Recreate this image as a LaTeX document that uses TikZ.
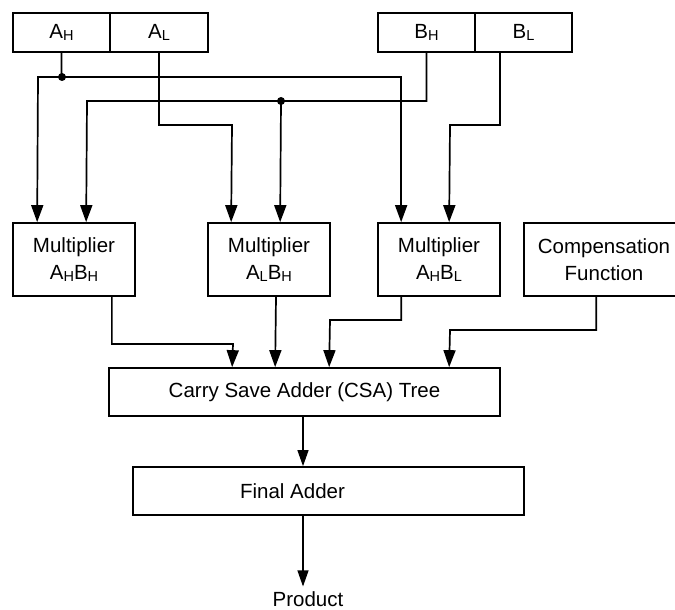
\documentclass[tikz,border=0pt]{standalone}
\usepackage{fontspec}
\setmainfont{Liberation Sans}
\usetikzlibrary{arrows.meta}

% small lowered index letter, as in A_H
\newcommand{\idx}[1]{\raisebox{-0.09em}{\fontsize{14.5}{14.5}\selectfont #1}}

\begin{document}
\begin{tikzpicture}[x=1pt,y=-1pt,
  every node/.style={font=\fontsize{20.5}{26.5}\selectfont},
  box/.style={draw, line width=1.7pt, inner sep=0pt, align=center},
  regbox/.style={box, minimum width=97pt, minimum height=39pt},
  mulbox/.style={box, minimum width=122pt, minimum height=73pt},
  wide/.style={box, minimum width=391pt, minimum height=48pt},
  wire/.style={line width=1.7pt},
  arr/.style={wire, -{Triangle[length=17pt,width=12pt]}},
  arrthin/.style={line width=1.1pt, -{Triangle[length=16pt,width=11pt]}},
  dot/.style={fill=black}
]
\useasboundingbox (0,0) rectangle (675,610);
\clip (0,0) rectangle (675,610);

% operand registers
\node[regbox] (ah) at (61.5,32.5) {A\idx{H}};
\node[regbox, minimum width=98pt] (al) at (159,32.5) {A\idx{L}};
\node[regbox] (bh) at (426.5,32.5) {B\idx{H}};
\node[regbox] (bl) at (523.5,32.5) {B\idx{L}};

% partial product multipliers
\node[mulbox] (m1) at (74,259.5) {Multiplier\\A\idx{H}B\idx{H}};
\node[mulbox] (m2) at (269,259.5) {Multiplier\\A\idx{L}B\idx{H}};
\node[mulbox] (m3) at (439,259.5) {Multiplier\\A\idx{H}B\idx{L}};
\node[box, minimum width=160pt, minimum height=73pt] (comp) at (604,259.5) {Compensation\\Function};

% reduction and final addition
\node[wide] (csa) at (304.5,392) {Carry Save Adder (CSA) Tree};
\node[wide] (fa) at (328.5,491) {};
\node (falabel) at (292.5,491) {Final Adder};
\node[inner sep=0pt, anchor=base] (prod) at (308,606.5) {Product};

% junction points
\coordinate (ja) at (62,77);
\coordinate (jb) at (281,101);

% A_H fan-out
\draw[arr] (ah.south) |- (38,77) -- ([xshift=25pt]m1.north west);
\draw[arr] (ja) -| ([xshift=24pt]m3.north west);
\fill[dot] (ja) circle (4);

% A_L
\draw[arr] (al.south) |- (232,125) -- ([xshift=24pt]m2.north west);

% B_H fan-out
\draw[arr] (bh.south) |- (87,101) -- ([xshift=74pt]m1.north west);
\draw[arr] (jb) -- ([xshift=73pt]m2.north west);
\fill[dot] (jb) circle (4);

% B_L
\draw[arr] ([xshift=-23.5pt]bl.south) |- (450,125) -- ([xshift=72pt]m3.north west);

% partial products into the CSA tree
\draw[arr] ([xshift=-24pt]m1.south east) |- (233,344) -- ([xshift=124pt]csa.north west);
\draw[arr] ([xshift=7pt]m2.south) -- ([xshift=167pt]csa.north west);
\draw[arr] ([xshift=24pt]m3.south west) |- (330,320) -- ([xshift=221pt]csa.north west);
\draw[arr] ([xshift=73pt]comp.south west) |- (450,330) -- ([xshift=341pt]csa.north west);

% CSA -> final adder -> product
\draw[arrthin] ([xshift=-1.5pt]csa.south) -- ([xshift=-1.5pt]csa.south |- fa.north);
\draw[arrthin] ([xshift=-1.5pt]csa.south |- fa.south) -- ([xshift=-5pt,yshift=5pt]prod.north);
\end{tikzpicture}
\end{document}
